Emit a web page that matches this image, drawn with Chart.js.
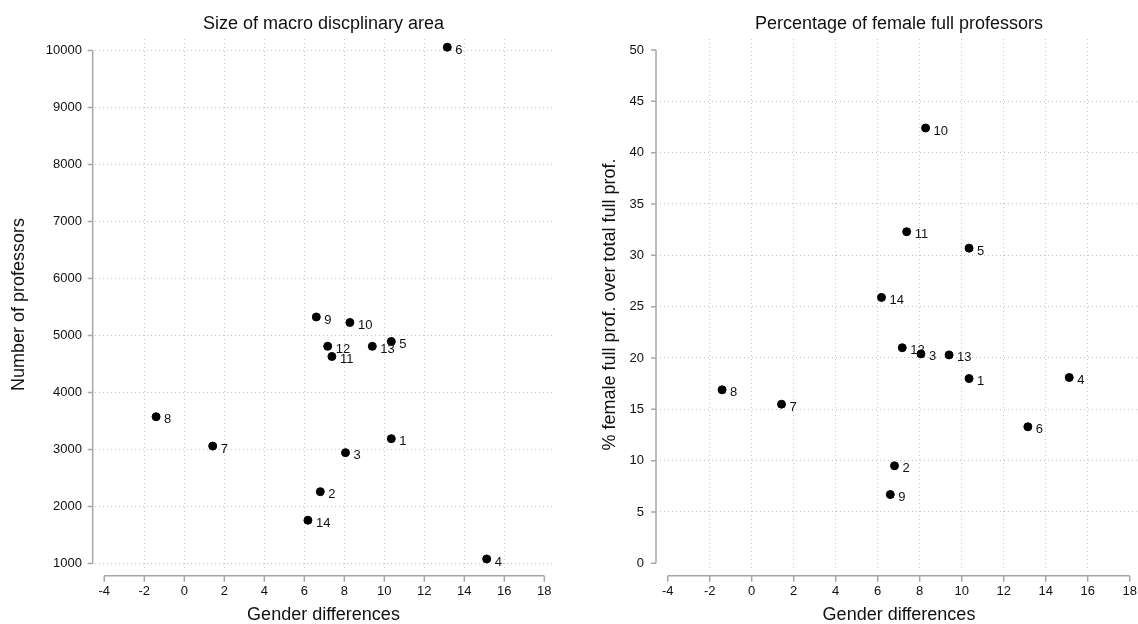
<!DOCTYPE html>
<html>
<head>
<meta charset="utf-8">
<script src="https://cdn.jsdelivr.net/npm/chart.js@4.4.1/dist/chart.umd.min.js"></script>
<style>
  html, body { margin: 0; padding: 0; background: #fff; overflow: hidden; }
  .panel { position: absolute; top: 0; height: 624px; }
  #leftBox { left: 0; width: 569px; }
  #rightBox { left: 569px; width: 580px; }
</style>
</head>
<body>
<div class="panel" id="leftBox"><canvas id="sizeChart" width="569" height="624"></canvas></div>
<div class="panel" id="rightBox"><canvas id="pctChart" width="580" height="624"></canvas></div>
<script>
// macro disciplinary areas (labels next to the dots)
const areas = ["1", "2", "3", "4", "5", "6", "7", "8", "9", "10", "11", "12", "13", "14"];
const genderDiff = [10.35, 6.8, 8.06, 15.12, 10.35, 13.15, 1.42, -1.41, 6.6, 8.28, 7.38, 7.17, 9.4, 6.18];
const profCount = [3190, 2260, 2945, 1080, 4895, 10058, 3060, 3575, 5325, 5228, 4632, 4812, 4810, 1759];
const femalePct = [18.0, 9.5, 20.4, 18.1, 30.7, 13.3, 15.5, 16.9, 6.7, 42.4, 32.3, 21.0, 20.3, 25.9];

const xTicks = [-4, -2, 0, 2, 4, 6, 8, 10, 12, 14, 16, 18];
const sizeTicks = [1000, 2000, 3000, 4000, 5000, 6000, 7000, 8000, 9000, 10000];
const pctTicks = [0, 5, 10, 15, 20, 25, 30, 35, 40, 45, 50];

const FONT = "'Liberation Sans', Arial, sans-serif";
const GRID = "#c4c4c4";
const AXIS = "#a6a6a6";

/* Stata-like axes: lines detached from the plot region, drawn over tick range */
const stataAxes = {
    id: "stataAxes",
    afterDraw(chart, args, opts) {
        const ctx = chart.ctx;
        const area = chart.chartArea;
        const xs = chart.scales.x, ys = chart.scales.y;
        ctx.save();
        ctx.strokeStyle = AXIS;
        ctx.lineWidth = 1.5;

        // y axis
        const ax = area.left - opts.yGap;
        const yTop = ys.getPixelForValue(opts.yTicks[opts.yTicks.length - 1]);
        const yBot = ys.getPixelForValue(opts.yTicks[0]);
        ctx.beginPath();
        ctx.moveTo(ax, yTop);
        ctx.lineTo(ax, yBot);
        opts.yTicks.forEach(v => {
            const p = ys.getPixelForValue(v);
            ctx.moveTo(ax, p);
            ctx.lineTo(ax - 5, p);
        });
        ctx.stroke();

        // x axis
        const ay = area.bottom + opts.xGap;
        const xL = xs.getPixelForValue(opts.xTicks[0]);
        const xR = xs.getPixelForValue(opts.xTicks[opts.xTicks.length - 1]);
        ctx.beginPath();
        ctx.moveTo(xL, ay);
        ctx.lineTo(xR, ay);
        opts.xTicks.forEach(v => {
            const p = xs.getPixelForValue(v);
            ctx.moveTo(p, ay);
            ctx.lineTo(p, ay + 6);
        });
        ctx.stroke();

        // point labels
        ctx.fillStyle = "#111";
        ctx.font = "13px " + FONT;
        ctx.textAlign = "left";
        ctx.textBaseline = "middle";
        chart.getDatasetMeta(0).data.forEach((pt, i) => {
            ctx.fillText(areas[i], pt.x + 8, pt.y + 3);
        });
        ctx.restore();
    }
};

function gridColor(skip) {
    return (c) => (c.tick && skip.includes(c.tick.value)) ? "rgba(0,0,0,0)" : GRID;
}

function makeScatter(id, o) {
    return new Chart(document.getElementById(id), {
        type: "scatter",
        data: {
            datasets: [{
                data: genderDiff.map((x, i) => ({ x: x, y: o.values[i] })),
                backgroundColor: "#000",
                borderColor: "#000",
                pointRadius: 4,
                pointHoverRadius: 4
            }]
        },
        options: {
            responsive: false,
            animation: false,
            layout: { padding: { left: 0, right: o.padRight, top: 39, bottom: 0 } },
            plugins: {
                legend: { display: false },
                tooltip: { enabled: false },
                title: { display: false },
                stataAxes: { yGap: o.yGap, xGap: 5.7, xTicks: xTicks, yTicks: o.yTicks }
            },
            scales: {
                x: {
                    type: "linear",
                    min: o.xMin,
                    max: o.xMax,
                    afterBuildTicks: s => { s.ticks = xTicks.map(v => ({ value: v })); },
                    afterFit: s => { s.height = 54; },
                    border: { display: false, dash: [1, 3] },
                    grid: {
                        color: gridColor([-4, 18]),
                        lineWidth: 1,
                        drawTicks: true,
                        tickLength: 10,
                        tickColor: "rgba(0,0,0,0)"
                    },
                    ticks: {
                        padding: 4,
                        color: "#111",
                        font: { family: FONT, size: 13 },
                        maxRotation: 0,
                        autoSkip: false,
                        callback: v => String(v)
                    },
                    title: {
                        display: true,
                        text: "Gender differences",
                        color: "#111",
                        font: { family: FONT, size: 18, lineHeight: 1 },
                        padding: { top: 0, bottom: 0 }
                    }
                },
                y: {
                    type: "linear",
                    min: o.yMin,
                    max: o.yMax,
                    afterBuildTicks: s => { s.ticks = o.yTicks.map(v => ({ value: v })); },
                    afterFit: s => { s.width = o.yWidth; },
                    border: { display: false, dash: [1, 3] },
                    grid: {
                        color: gridColor(o.ySkip),
                        lineWidth: 1,
                        drawTicks: true,
                        tickLength: o.yTickLen,
                        tickColor: "rgba(0,0,0,0)"
                    },
                    ticks: {
                        padding: o.yPad,
                        color: "#111",
                        font: { family: FONT, size: 13 },
                        autoSkip: false,
                        callback: v => String(v)
                    },
                    title: {
                        display: true,
                        text: o.yTitle,
                        color: "#111",
                        font: { family: FONT, size: 18, lineHeight: 1 },
                        padding: { top: o.yTitlePad, bottom: 0 }
                    }
                }
            }
        },
        plugins: [stataAxes, {
            id: "panelTitle",
            afterDraw(chart) {
                const ctx = chart.ctx, a = chart.chartArea;
                ctx.save();
                ctx.fillStyle = "#111";
                ctx.font = "18px " + FONT;
                ctx.textAlign = "center";
                ctx.textBaseline = "middle";
                ctx.fillText(o.title, (a.left + a.right) / 2, 24);
                ctx.restore();
            }
        }]
    });
}

makeScatter("sizeChart", {
    title: "Size of macro discplinary area",
    yTitle: "Number of professors",
    values: profCount,
    yTicks: sizeTicks,
    ySkip: [],
    xMin: -4.465, xMax: 18.385,
    yMin: 886, yMax: 10202,
    yWidth: 95, yGap: 2.3, yTickLen: 8, yPad: 5, yTitlePad: 10,
    padRight: 17
});

makeScatter("pctChart", {
    title: "Percentage of female full professors",
    yTitle: "% female full prof. over total full prof.",
    values: femalePct,
    yTicks: pctTicks,
    ySkip: [0, 50],
    xMin: -4.367, xMax: 18.395,
    yMin: -0.65, yMax: 51.07,
    yWidth: 91, yGap: 4, yTickLen: 10, yPad: 6, yTitlePad: 32,
    padRight: 11
});
</script>
</body>
</html>
